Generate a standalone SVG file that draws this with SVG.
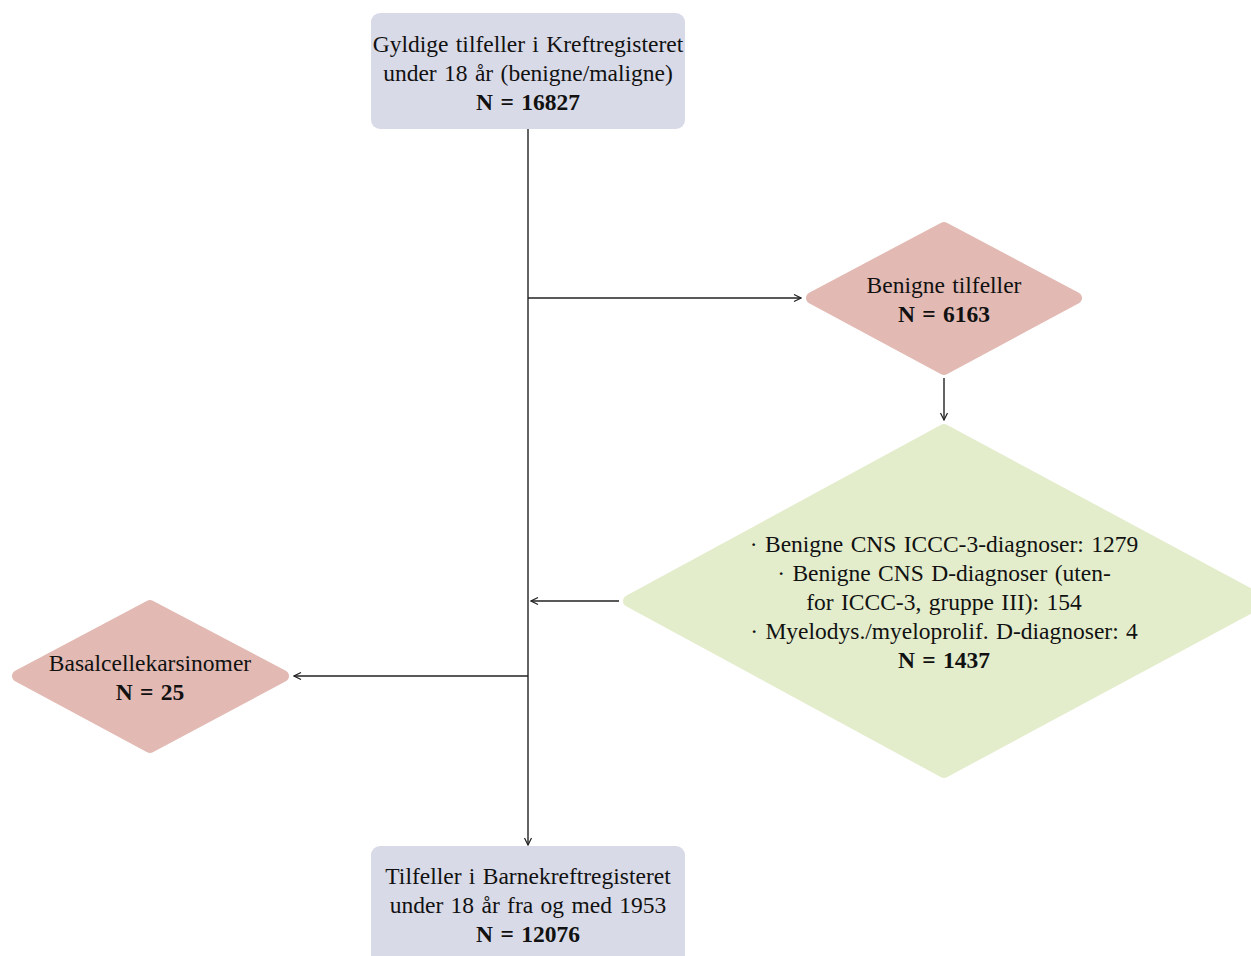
<svg xmlns="http://www.w3.org/2000/svg" width="1251" height="956" viewBox="0 0 1251 956">
<defs>
<marker id="arr" viewBox="0 0 10 10" refX="9" refY="5" markerWidth="10" markerHeight="10" markerUnits="userSpaceOnUse" orient="auto">
<path d="M2,1.5 L9,5 L2,8.5" fill="none" stroke="#222" stroke-width="1.2"/>
</marker>
</defs>
<style>
text{font-family:"Liberation Serif","Times New Roman",serif;font-size:23.5px;word-spacing:1.5px;fill:#111;text-anchor:middle}
.b{font-weight:bold}
.box{fill:#d9dae7}
.pink{fill:#e2b9b3;stroke:#e2b9b3;stroke-width:12;stroke-linejoin:round}
.green{fill:#e3edcc;stroke:#e3edcc;stroke-width:12;stroke-linejoin:round}
.c{fill:none;stroke:#222;stroke-width:1.4}
</style>
<rect width="1251" height="956" fill="#fff"/>
<g id="connectors">
<line class="c" x1="528" y1="129" x2="528" y2="845" marker-end="url(#arr)"/>
<line class="c" x1="528" y1="298" x2="801" y2="298" marker-end="url(#arr)"/>
<line class="c" x1="944" y1="378" x2="944" y2="420" marker-end="url(#arr)"/>
<line class="c" x1="619" y1="601" x2="531" y2="601" marker-end="url(#arr)"/>
<line class="c" x1="528" y1="676" x2="294" y2="676" marker-end="url(#arr)"/>
</g>
<g id="start">
<rect class="box" x="371" y="13" width="314" height="116" rx="9"/>
<text x="528" y="52">Gyldige tilfeller i Kreftregisteret</text>
<text x="528" y="81">under 18 år (benigne/maligne)</text>
<text class="b" x="528" y="110">N = 16827</text>
</g>
<g id="benign">
<polygon class="pink" points="944,228 1076,298 944,369 812,298"/>
<text x="944" y="293">Benigne tilfeller</text>
<text class="b" x="944" y="322">N = 6163</text>
</g>
<g id="excluded">
<polygon class="green" points="944,430 1262,601 944,772 629,601"/>
<text x="944" y="552">· Benigne CNS ICCC-3-diagnoser: 1279</text>
<text x="944" y="581">· Benigne CNS D-diagnoser (uten-</text>
<text x="944" y="610">for ICCC-3, gruppe III): 154</text>
<text x="944" y="639">· Myelodys./myeloprolif. D-diagnoser: 4</text>
<text class="b" x="944" y="668">N = 1437</text>
</g>
<g id="basal">
<polygon class="pink" points="150,606 283,676 150,747 18,676"/>
<text x="150" y="671">Basalcellekarsinomer</text>
<text class="b" x="150" y="700">N = 25</text>
</g>
<g id="end">
<rect class="box" x="371" y="846" width="314" height="120" rx="9"/>
<text x="528" y="884">Tilfeller i Barnekreftregisteret</text>
<text x="528" y="913">under 18 år fra og med 1953</text>
<text class="b" x="528" y="942">N = 12076</text>
</g>
</svg>
